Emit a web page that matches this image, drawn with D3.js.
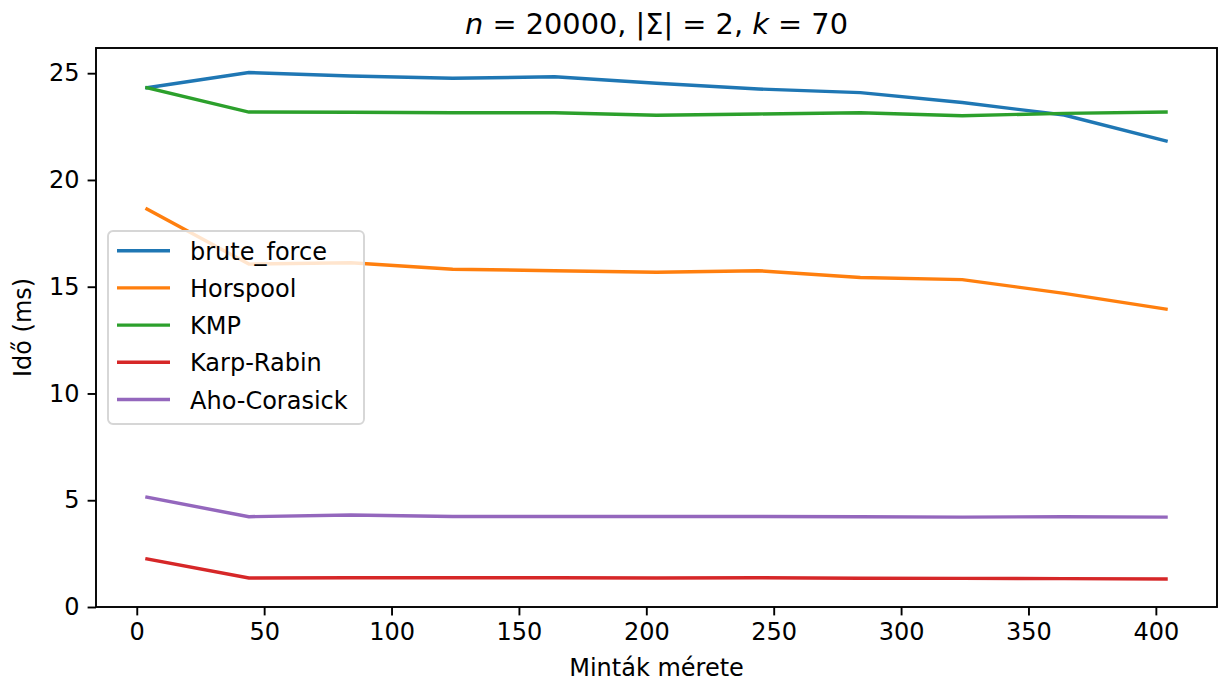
<!DOCTYPE html>
<html>
<head>
<meta charset="utf-8">
<script src="https://cdn.jsdelivr.net/npm/d3@7"></script>
<style>
  body { margin: 0; background: #fff; }
  text { font-family: "DejaVu Sans", sans-serif; fill: #000; }
</style>
</head>
<body>
<div class="chart"></div>
<script>
// === Data ===
const sizes = [4, 44, 84, 124, 164, 204, 244, 284, 324, 364, 404];
const bruteForce = [24.32, 25.03, 24.87, 24.76, 24.83, 24.53, 24.26, 24.09, 23.63, 23.04, 21.83];
const horspool   = [18.64, 16.06, 16.12, 15.82, 15.75, 15.68, 15.75, 15.43, 15.33, 14.69, 13.95];
const kmp        = [24.32, 23.18, 23.17, 23.15, 23.15, 23.03, 23.09, 23.15, 23.01, 23.12, 23.18];
const karpRabin  = [2.25, 1.36, 1.37, 1.37, 1.37, 1.36, 1.37, 1.35, 1.34, 1.33, 1.31];
const ahoCorasick = [5.14, 4.23, 4.31, 4.24, 4.24, 4.24, 4.24, 4.23, 4.21, 4.23, 4.21];
const xTicks = [0, 50, 100, 150, 200, 250, 300, 350, 400];
const yTicks = [0, 5, 10, 15, 20, 25];

const series = [
  {name: "brute_force", values: bruteForce, color: "#1f77b4"},
  {name: "Horspool", values: horspool, color: "#ff7f0e"},
  {name: "KMP", values: kmp, color: "#2ca02c"},
  {name: "Karp-Rabin", values: karpRabin, color: "#d62728"},
  {name: "Aho-Corasick", values: ahoCorasick, color: "#9467bd"}
];

// === Margin Convention ===
const W = 1219, H = 684;
const margin = {top: 48, right: 2, bottom: 77, left: 96};
const width = W - margin.left - margin.right,
      height = H - margin.top - margin.bottom;

const svg = d3.select(".chart").append("svg")
    .attr("width", W)
    .attr("height", H);

const g = svg.append("g")
    .attr("transform", `translate(${margin.left},${margin.top})`);

// === Scales ===
const xScale = d3.scaleLinear().domain([-16, 424]).range([0, width]);
const yScale = d3.scaleLinear().domain([0, 26.18]).range([height, 0]);

// === Axes ===
const xAxis = d3.axisBottom(xScale).tickValues(xTicks).tickSize(8.4).tickPadding(8).tickFormat(d3.format("d"));
const yAxis = d3.axisLeft(yScale).tickValues(yTicks).tickSize(8.4).tickPadding(8).tickFormat(d3.format("d"));

const xAxisG = g.append("g").attr("transform", `translate(0,${height})`).call(xAxis);
const yAxisG = g.append("g").call(yAxis);

[xAxisG, yAxisG].forEach(a => {
  a.select(".domain").remove();
  a.selectAll(".tick line").attr("stroke", "#000").attr("stroke-width", 1.9);
  a.selectAll(".tick text").style("font-size", "24px").style("font-family", "DejaVu Sans");
});

// === Lines ===
const line = d3.line()
    .x((d, i) => xScale(sizes[i]))
    .y(d => yScale(d));

g.selectAll(".series")
  .data(series)
  .enter().append("path")
    .attr("class", "series")
    .attr("fill", "none")
    .attr("stroke", d => d.color)
    .attr("stroke-width", 3.4)
    .attr("stroke-linecap", "square")
    .attr("d", d => line(d.values));

// === Frame ===
g.append("rect")
  .attr("width", width).attr("height", height)
  .attr("fill", "none").attr("stroke", "#000").attr("stroke-width", 1.9);

// === Legend ===
const legend = g.append("g").attr("transform", `translate(${108 - margin.left},${231 - margin.top})`);
legend.append("rect")
  .attr("width", 256).attr("height", 193)
  .attr("rx", 5).attr("ry", 5)
  .attr("fill", "#fff").attr("fill-opacity", 0.8)
  .attr("stroke", "#d6d6d6").attr("stroke-width", 1.9);

series.forEach((s, i) => {
  const y = 19.7 + i * 37.2;
  legend.append("line")
    .attr("x1", 9).attr("x2", 62).attr("y1", y).attr("y2", y)
    .attr("stroke", s.color).attr("stroke-width", 3.4);
  legend.append("text")
    .attr("x", 82).attr("y", y + 9)
    .style("font-size", "24px")
    .text(s.name);
});

// === Titles ===
const title = svg.append("text")
  .attr("x", margin.left + width / 2).attr("y", 34)
  .attr("text-anchor", "middle")
  .style("font-size", "28.8px");
title.append("tspan").style("font-style", "italic").text("n");
title.append("tspan").text(" = 20000, |Σ| = 2, ");
title.append("tspan").style("font-style", "italic").text("k");
title.append("tspan").text(" = 70");

svg.append("text")
  .attr("x", margin.left + width / 2).attr("y", 676)
  .attr("text-anchor", "middle")
  .style("font-size", "24px")
  .text("Minták mérete");

svg.append("text")
  .attr("transform", `translate(31,${margin.top + height / 2}) rotate(-90)`)
  .attr("text-anchor", "middle")
  .style("font-size", "24px")
  .text("Idő (ms)");
</script>
</body>
</html>
